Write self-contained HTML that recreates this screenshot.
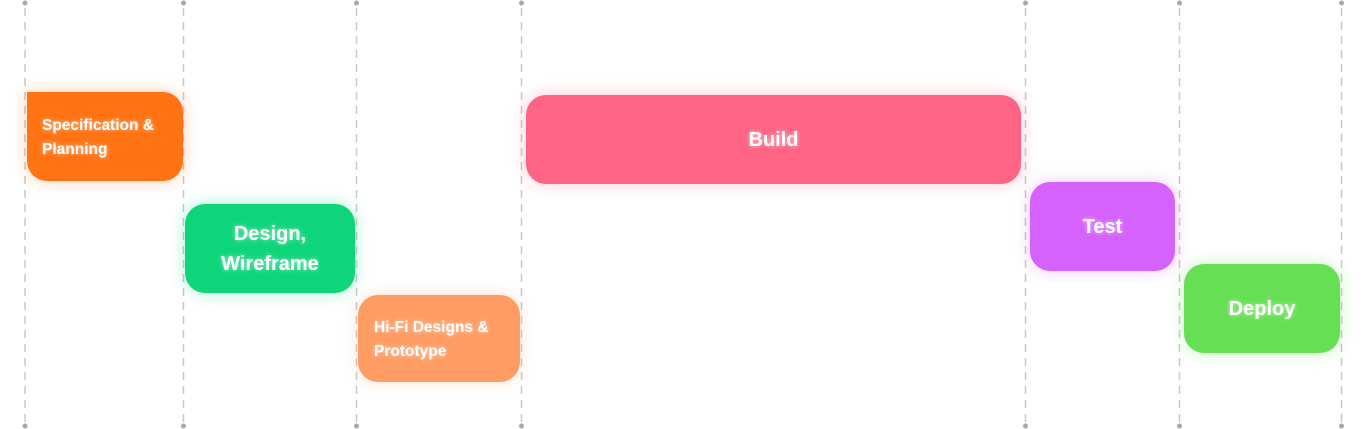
<!DOCTYPE html>
<html><head><style>
body{margin:0;width:1367px;height:429px;background:#fff;position:relative;overflow:hidden;font-family:"Liberation Sans",sans-serif;}
svg{position:absolute;left:0;top:0}
.b{position:absolute;border-radius:20px;color:#fff;font-weight:bold;display:flex;align-items:center;box-sizing:border-box;text-shadow:0 0 4px rgba(255,255,255,.6);}
.c{justify-content:center;text-align:center;}
</style></head><body>
<svg width="1367" height="429">
<g stroke="#c8c8c8" stroke-width="1.5" stroke-dasharray="8 6">
<line x1="25" y1="8" x2="25" y2="424"/><line x1="183.5" y1="8" x2="183.5" y2="424"/><line x1="356.5" y1="8" x2="356.5" y2="424"/><line x1="521.5" y1="8" x2="521.5" y2="424"/><line x1="1025.5" y1="8" x2="1025.5" y2="424"/><line x1="1179.5" y1="8" x2="1179.5" y2="424"/><line x1="1341.5" y1="8" x2="1341.5" y2="424"/>
</g>
<g fill="#a8a8a8">
<circle cx="25" cy="3" r="2.5"/><circle cx="183.5" cy="3" r="2.5"/><circle cx="356.5" cy="3" r="2.5"/><circle cx="521.5" cy="3" r="2.5"/><circle cx="1025.5" cy="3" r="2.5"/><circle cx="1179.5" cy="3" r="2.5"/><circle cx="1341.5" cy="3" r="2.5"/>
<circle cx="25" cy="426" r="2.5"/><circle cx="183.5" cy="426" r="2.5"/><circle cx="356.5" cy="426" r="2.5"/><circle cx="521.5" cy="426" r="2.5"/><circle cx="1025.5" cy="426" r="2.5"/><circle cx="1179.5" cy="426" r="2.5"/><circle cx="1341.5" cy="426" r="2.5"/>
</g>
</svg>

<div class="b" style="left:27px;top:92px;width:156px;height:89px;background:#ff7314;border-top-left-radius:0;padding-left:15px;padding-top:2px;font-size:15.5px;line-height:24px;box-shadow:0 0 16px rgba(255,115,20,.35)">Specification &amp;<br>Planning</div>
<div class="b c" style="left:185px;top:204px;width:170px;height:89px;background:#0fd57a;font-size:20px;line-height:30px;box-shadow:0 0 16px rgba(15,213,122,.35)">Design,<br>Wireframe</div>
<div class="b" style="left:358px;top:295px;width:162px;height:87px;background:#ff9c64;padding-left:16px;padding-top:2px;font-size:15.5px;line-height:24px;box-shadow:0 0 16px rgba(255,156,100,.3)">Hi-Fi Designs &amp;<br>Prototype</div>
<div class="b c" style="left:526px;top:95px;width:495px;height:89px;background:#ff6485;font-size:20px;padding-top:2px;box-shadow:0 0 16px rgba(255,100,133,.35)">Build</div>
<div class="b c" style="left:1030px;top:182px;width:145px;height:89px;background:#d662fe;font-size:20px;padding-top:2px;box-shadow:0 0 16px rgba(214,98,254,.35)">Test</div>
<div class="b c" style="left:1184px;top:264px;width:156px;height:89px;background:#66df55;font-size:20px;padding-top:2px;box-shadow:0 0 16px rgba(102,223,85,.35)">Deploy</div>
</body></html>
